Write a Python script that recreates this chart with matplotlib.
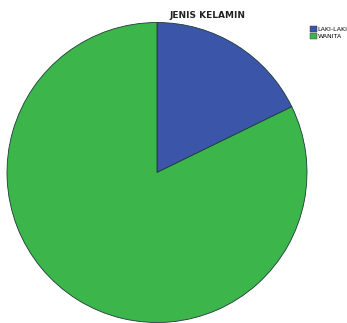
import matplotlib.pyplot as plt
from matplotlib.patches import Patch

categories = ['LAKI-LAKI', 'WANITA']
counts = [8, 37]
colors = ['#3b55a8', '#3cb54a']

fig = plt.figure(figsize=(3.47, 3.23), dpi=100)
ax = fig.add_axes([7/347, 0.5/323, 300/347, 300/323])
ax.pie(counts, colors=colors, startangle=90, counterclock=False,
       wedgeprops={'edgecolor': '#1f3a3a', 'linewidth': 0.6})
ax.set_xlim(-1.0, 1.0)
ax.set_ylim(-1.0, 1.0)
ax.set_aspect('equal')

fig.text(207/347, 1 - 16/323, 'JENIS KELAMIN', ha='center', va='center',
         fontsize=6.5, fontweight='bold', color='#222222')

handles = [Patch(facecolor=c, edgecolor='#333333', linewidth=0.3) for c in colors]
fig.legend(handles, categories, loc='upper left', bbox_to_anchor=(306/347, 1 - 22/323),
           frameon=False, fontsize=4.5, handlelength=1.0, handleheight=1.0,
           handletextpad=0.2, labelspacing=0.1, borderpad=0.2)

fig.savefig('out.png', dpi=100)
